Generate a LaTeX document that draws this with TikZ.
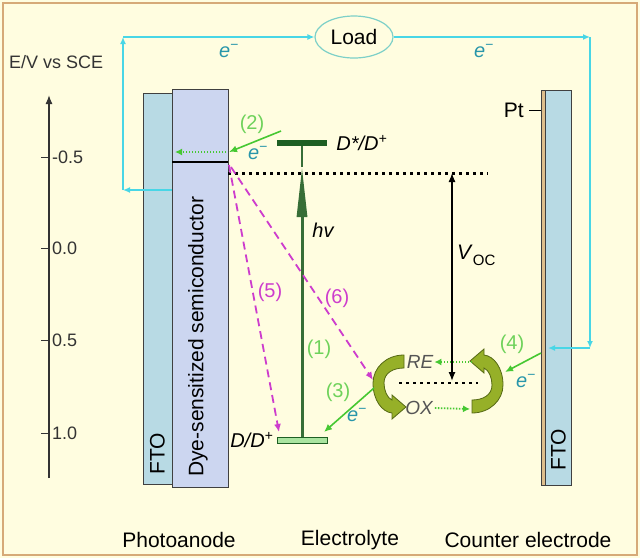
\documentclass[tikz,border=0pt]{standalone}
\usepackage{fontspec}
\setmainfont{Liberation Sans}
\usepackage{xcolor}
\usepackage{tikz}
\usetikzlibrary{shapes.geometric, arrows.meta, positioning, calc}

\definecolor{bgcream}{RGB}{255,253,224}
\definecolor{frametan}{RGB}{214,170,120}
\definecolor{ftoblue}{RGB}{184,218,228}
\definecolor{semiblue}{RGB}{204,214,240}
\definecolor{ptbrown}{RGB}{222,190,140}
\definecolor{wirecyan}{RGB}{72,214,230}
\definecolor{loadedge}{RGB}{125,208,200}
\definecolor{eteal}{RGB}{40,150,170}
\definecolor{arrgreen}{RGB}{70,200,50}
\definecolor{numgreen}{RGB}{110,210,90}
\definecolor{dyemag}{RGB}{205,60,205}
\definecolor{lvldark}{RGB}{30,95,35}
\definecolor{lvllight}{RGB}{170,228,160}
\definecolor{hvgreen}{RGB}{55,110,55}
\definecolor{cycfill}{RGB}{150,176,40}
\definecolor{cycedge}{RGB}{85,105,20}
\definecolor{redoxgray}{RGB}{85,85,85}

\begin{document}
\begin{tikzpicture}[
        x=1pt, y=-1pt,
        txt/.style = {inner sep=0pt, font=\fontsize{21}{24}\selectfont},
        axlab/.style = {inner sep=0pt, anchor=west, font=\fontsize{18}{20}\selectfont, text=black!80},
        layer/.style = {rectangle, draw=black!75, thin, inner sep=0pt},
        lvl/.style = {rectangle, inner sep=0pt, minimum width=50pt, minimum height=6pt},
        wire/.style = {wirecyan, line width=1.5pt, -{Latex[length=7pt,width=6pt]}},
        garrow/.style = {arrgreen, line width=1.6pt, -{Latex[length=8pt,width=7pt]}},
        gdots/.style = {arrgreen, line width=1.8pt, dash pattern=on 1.5pt off 1.5pt, -{Latex[length=7pt,width=7pt]}},
        magarrow/.style = {dyemag, line width=1.8pt, dash pattern=on 8pt off 5pt, -{Latex[length=8pt,width=7pt]}},
        bdots/.style = {black, line width=3pt, dash pattern=on 3pt off 4pt},
        num/.style = {inner sep=0pt, font=\fontsize{20}{22}\selectfont, text=numgreen},
        elab/.style = {inner sep=0pt, font=\fontsize{20}{22}\selectfont\itshape, text=eteal}
    ]

    % --- BACKGROUND ---
    \fill[bgcream] (0,0) rectangle (640,558);
    \draw[frametan, line width=1.5pt] (3,3) rectangle (637,555);
    \useasboundingbox (0,0) rectangle (640,558);

    % --- ENERGY AXIS ---
    \node[axlab] (axtitle) at (9,62) {E/V vs SCE};
    \coordinate (axbot) at (49,478);
    \coordinate (axtop) at (49,95);
    \draw[black!80, line width=1.3pt, -{Latex[length=9pt,width=7pt]}] (axbot) -- (axtop);
    \foreach \y/\v [count=\i] in {157/-0.5, 248/0.0, 340/0.5, 433/1.0} {
        \draw[black!80, thick] (41,\y) -- (49,\y);
        \node[axlab] (tick\i) at (52,\y) {\v};
    }

    % --- PHOTOANODE ---
    \node[layer, fill=ftoblue, minimum width=29pt, minimum height=391pt] (ftoL) at (157.5,288.5) {};
    \node[layer, fill=semiblue, minimum width=56pt, minimum height=398pt] (semi) at (200,288) {};
    \node[txt, rotate=90, anchor=west] (ftoLtxt) at (157.5,475) {FTO};
    \node[txt, rotate=90, anchor=west] (semitxt) at (198,477) {Dye-sensitized semiconductor};
    % conduction band edge
    \coordinate (cbL) at (172,162);
    \coordinate (cbR) at (228,162);
    \draw[line width=2.5pt] (cbL) -- (cbR);

    % --- COUNTER ELECTRODE ---
    \node[layer, fill=ptbrown, minimum width=4pt, minimum height=395pt] (pt) at (543,287.5) {};
    \node[layer, fill=ftoblue, minimum width=26pt, minimum height=395pt] (ftoR) at (558,287.5) {};
    \node[txt, rotate=90, anchor=west] (ftoRtxt) at (558.5,471) {FTO};
    \node[txt, anchor=east] (ptlab) at (524,110) {Pt};
    \draw[thick] ([xshift=5pt]ptlab.east) -- (pt.west |- ptlab.east);

    % --- EXTERNAL CIRCUIT ---
    \node[txt, ellipse, draw=loadedge, line width=1.2pt, fill=bgcream, minimum width=78pt, minimum height=42pt] (load) at (354,37) {Load};
    \coordinate (wA) at (172,190);
    \coordinate (wB) at (123,190);
    \coordinate (wC) at (123,37);
    \coordinate (wD) at (590,37);
    \coordinate (wE) at (590,348);
    \coordinate (wF) at (548,348);
    \draw[wire] (wA) -- (wB);
    \draw[wire] (wB) -- (wC);
    \draw[wire] (wC) -- (load.west);
    \draw[wire] (load.east) -- (wD);
    \draw[wire] (wD) -- (wE);
    \draw[wire] (wE) -- (wF);
    \node[elab] (eW1) at (229,51) {e\textsuperscript{−}};
    \node[elab] (eW2) at (484,51) {e\textsuperscript{−}};

    % --- DYE LEVELS AND EXCITATION ---
    \node[lvl, fill=lvldark] (dstar) at (302,143) {};
    \node[lvl, fill=lvllight, draw=lvldark, thick] (dgnd) at (302,440) {};
    \node[txt, right=9pt of dstar, font=\fontsize{20}{22}\selectfont\itshape] (dstarlab) {D*/D\textsuperscript{+}};
    \node[txt, left=3pt of dgnd, font=\fontsize{20}{22}\selectfont\itshape] (dgndlab) {D/D\textsuperscript{+}};
    \coordinate (hvtip) at (302,167);
    \draw[hvgreen, line width=3pt, -{Triangle[length=50pt,width=10pt]}] (dgnd.north) -- (hvtip);
    \draw[hvgreen, line width=1.2pt] (hvtip) -- (dstar.south);
    \node[txt, font=\fontsize{20}{22}\selectfont\itshape] (hv) at (323,230) {hv};
    \node[num] (n1) at (319,349) {(1)};

    % --- FERMI LEVEL AND VOC ---
    \coordinate (efL) at (228,173);
    \coordinate (efR) at (488,173);
    \draw[bdots] (efL) -- (efR);
    \coordinate (vocT) at (452,173);
    \coordinate (vocB) at (452,381);
    \draw[black, line width=1.3pt, {Latex[length=9pt,width=7pt]}-{Latex[length=9pt,width=7pt]}] (vocT) -- (vocB);
    \node[txt, anchor=west] (voc) at (457,255) {\textit{V}\raisebox{-6pt}{\fontsize{15}{16}\selectfont OC}};

    % --- ELECTRON INJECTION (2) ---
    \coordinate (g2s) at (281,131);
    \coordinate (g2e) at (229,152);
    \draw[garrow] (g2s) -- (g2e);
    \node[num] (n2) at (252,124) {(2)};
    \node[elab] (e2) at (258,153) {e\textsuperscript{−}};
    \coordinate (injA) at (226,152);
    \coordinate (injB) at (175,152);
    \draw[gdots] (injA) -- (injB);

    % --- RECOMBINATION (5), (6) ---
    \coordinate (recA) at (229,165);
    \coordinate (recB) at (231,167);
    \coordinate (m5e) at (279,432);
    \coordinate (m6e) at (373,380);
    \draw[magarrow] (recA) -- (m5e);
    \draw[magarrow] (recB) -- (m6e);
    \node[num, text=dyemag] (n5) at (270,292) {(5)};
    \node[num, text=dyemag] (n6) at (337,298) {(6)};

    % --- REDOX CYCLE ---
    \foreach \ang in {0,180}
        \filldraw[fill=cycfill, draw=cycedge, line width=0.8pt, rotate around={\ang:(438,384)}]
            (404,355) .. controls (386,355) and (373,368) .. (373,383)
            .. controls (373,400) and (382,412) .. (392,413)
            -- (392,419) -- (406,407) -- (392,395) -- (392,400)
            .. controls (387,398) and (384,390) .. (384,383)
            .. controls (384,373) and (393,368) .. (404,368) -- cycle;
    \node[txt, font=\fontsize{19}{20}\selectfont\itshape, text=redoxgray] (re) at (420,362) {RE};
    \node[txt, font=\fontsize{19}{20}\selectfont\itshape, text=redoxgray] (ox) at (419,408) {OX};
    \coordinate (reR) at (472,362);
    \coordinate (oxR) at (470,409);
    \draw[gdots] (reR) -- ([xshift=1pt]re.east);
    \draw[gdots] ([xshift=2pt]ox.east) -- (oxR);
    \coordinate (cycL) at (399,383);
    \coordinate (cycR) at (478,383);
    \draw[bdots, line width=2.5pt] (cycL) -- (cycR);

    % --- DYE REGENERATION (3) AND COUNTER ELECTRODE (4) ---
    \coordinate (g3s) at (374,388);
    \coordinate (g3e) at (324,432);
    \draw[garrow] (g3s) -- (g3e);
    \node[num] (n3) at (338,392) {(3)};
    \node[elab] (e3) at (357,415) {e\textsuperscript{−}};
    \coordinate (g4s) at (541,353);
    \coordinate (g4e) at (505,372);
    \draw[garrow] (g4s) -- (g4e);
    \node[num] (n4) at (512,344) {(4)};
    \node[elab] (e4) at (526,381) {e\textsuperscript{−}};

    % --- BOTTOM LABELS ---
    \node[txt] (photoanode) at (179,540) {Photoanode};
    \node[txt] (electrolyte) at (350,540) {Electrolyte};
    \node[txt] (counter) at (528,540) {Counter electrode};

\end{tikzpicture}
\end{document}
